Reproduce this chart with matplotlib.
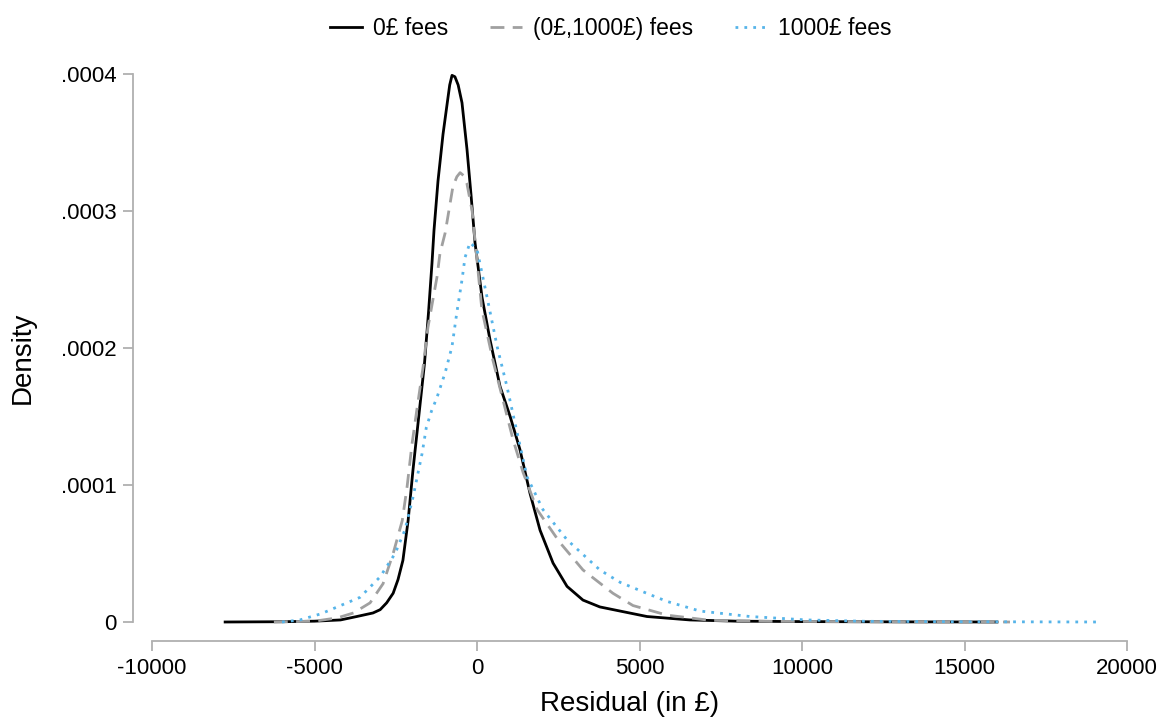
import matplotlib
matplotlib.use('Agg')
import matplotlib.pyplot as plt
import numpy as np

plt.rcParams['font.family'] = ['Liberation Sans', 'DejaVu Sans']
plt.rcParams['axes.unicode_minus'] = False

# residual (in pounds) and density (in units of 1e-4)
x_zero = [-7750, -6000, -5000, -4200, -3700, -3200, -2980, -2780, -2580, -2430, -2280,
          -2120, -1970, -1815, -1615, -1492, -1385, -1323, -1200, -1046, -932, -840,
          -769, -680, -580, -462, -308, -185, -62, 154, 400, 708, 1020, 1320, 1630,
          1940, 2340, 2770, 3260, 3780, 4400, 5230, 6550, 8000, 10000, 13000, 16000]
y_zero = [0.0, 0.002, 0.006, 0.015, 0.04, 0.066, 0.09, 0.14, 0.21, 0.31, 0.45,
          0.74, 1.11, 1.45, 1.89, 2.26, 2.62, 2.86, 3.22, 3.56, 3.76, 3.92,
          3.99, 3.98, 3.92, 3.79, 3.45, 3.12, 2.77, 2.37, 2.06, 1.72, 1.50, 1.26, 0.94,
          0.67, 0.43, 0.26, 0.16, 0.11, 0.08, 0.04, 0.015, 0.006, 0.003, 0.001, 0.0]

x_mid = [-6250, -5000, -4300, -3800, -3290, -2890, -2580, -2300, -2150, -2000, -1850,
         -1660, -1510, -1230, -1140, -980, -860, -740, -620, -520, -420, -310, -150,
         0, 150, 490, 800, 1110, 1420, 1850, 2550, 3260, 4180, 4800, 5850, 7170, 9000,
         12000, 16400]
y_mid = [0.0, 0.006, 0.03, 0.066, 0.14, 0.28, 0.50, 0.74, 0.99, 1.30, 1.55,
         1.86, 2.15, 2.52, 2.69, 2.84, 3.01, 3.18, 3.25, 3.28, 3.26, 3.20, 3.00,
         2.64, 2.28, 1.91, 1.62, 1.33, 1.09, 0.82, 0.58, 0.38, 0.21, 0.12, 0.05, 0.012, 0.005,
         0.002, 0.0]

x_full = [-6000, -5450, -4800, -4300, -3600, -2980, -2520, -2220, -1970, -1690, -1560,
          -1400, -1230, -980, -770, -620, -460, -370, -215, 0, 310, 620, 920, 1170,
          1540, 2030, 2770, 3780, 4400, 5320, 5850, 6860, 8400, 10150, 12000, 15000,
          19200]
y_full = [0.0, 0.015, 0.06, 0.11, 0.18, 0.33, 0.50, 0.67, 0.91, 1.23, 1.42,
          1.54, 1.64, 1.82, 2.01, 2.26, 2.50, 2.66, 2.77, 2.72, 2.37, 2.01, 1.72, 1.45,
          1.06, 0.82, 0.60, 0.38, 0.29, 0.20, 0.15, 0.08, 0.04, 0.015, 0.005, 0.002,
          0.0]

labels = ['0£ fees', '(0£,1000£) fees', '1000£ fees']
xticks = [-10000, -5000, 0, 5000, 10000, 15000, 20000]
yticks = [0, 0.0001, 0.0002, 0.0003, 0.0004]
ytick_labels = ['0', '.0001', '.0002', '.0003', '.0004']

fig = plt.figure(figsize=(11.68, 7.19), dpi=100)
ax = fig.add_axes([133 / 1168, 1 - 641 / 719, (1127 - 133) / 1168, (641 - 74) / 719])

ax.plot(x_zero, np.array(y_zero) * 1e-4, color='black', lw=2.0, label=labels[0])
ax.plot(x_mid, np.array(y_mid) * 1e-4, color='#a0a0a0', lw=2.0, ls=(0, (5, 3)), label=labels[1])
ax.plot(x_full, np.array(y_full) * 1e-4, color='#56b4e9', lw=2.0, ls=(0, (1, 2.2)), label=labels[2])

ax.set_xlim(-10585, 20000)
ax.set_ylim(-19 / 137 * 1e-4, 0.0004)
ax.set_xticks(xticks)
ax.set_yticks(yticks)
ax.set_yticklabels(ytick_labels)

for s in ['top', 'right']:
    ax.spines[s].set_visible(False)
ax.spines['left'].set_bounds(0, 0.0004)
ax.spines['bottom'].set_bounds(-10000, 20000)
for s in ['left', 'bottom']:
    ax.spines[s].set_color('#b0b0b0')
    ax.spines[s].set_linewidth(1.3)
ax.tick_params(axis='both', colors='#b0b0b0', labelcolor='black', length=7, width=1.3,
               labelsize=16, pad=5)

ax.set_xlabel('Residual (in £)', fontsize=20, labelpad=9)
ax.set_ylabel('Density', fontsize=20, labelpad=18)

fig.legend(loc='upper center', bbox_to_anchor=(0.523, 1.005), ncol=3, frameon=False,
           fontsize=16.5, handlelength=1.4, handletextpad=0.5, columnspacing=1.8)

plt.savefig('out.png', dpi=100)
